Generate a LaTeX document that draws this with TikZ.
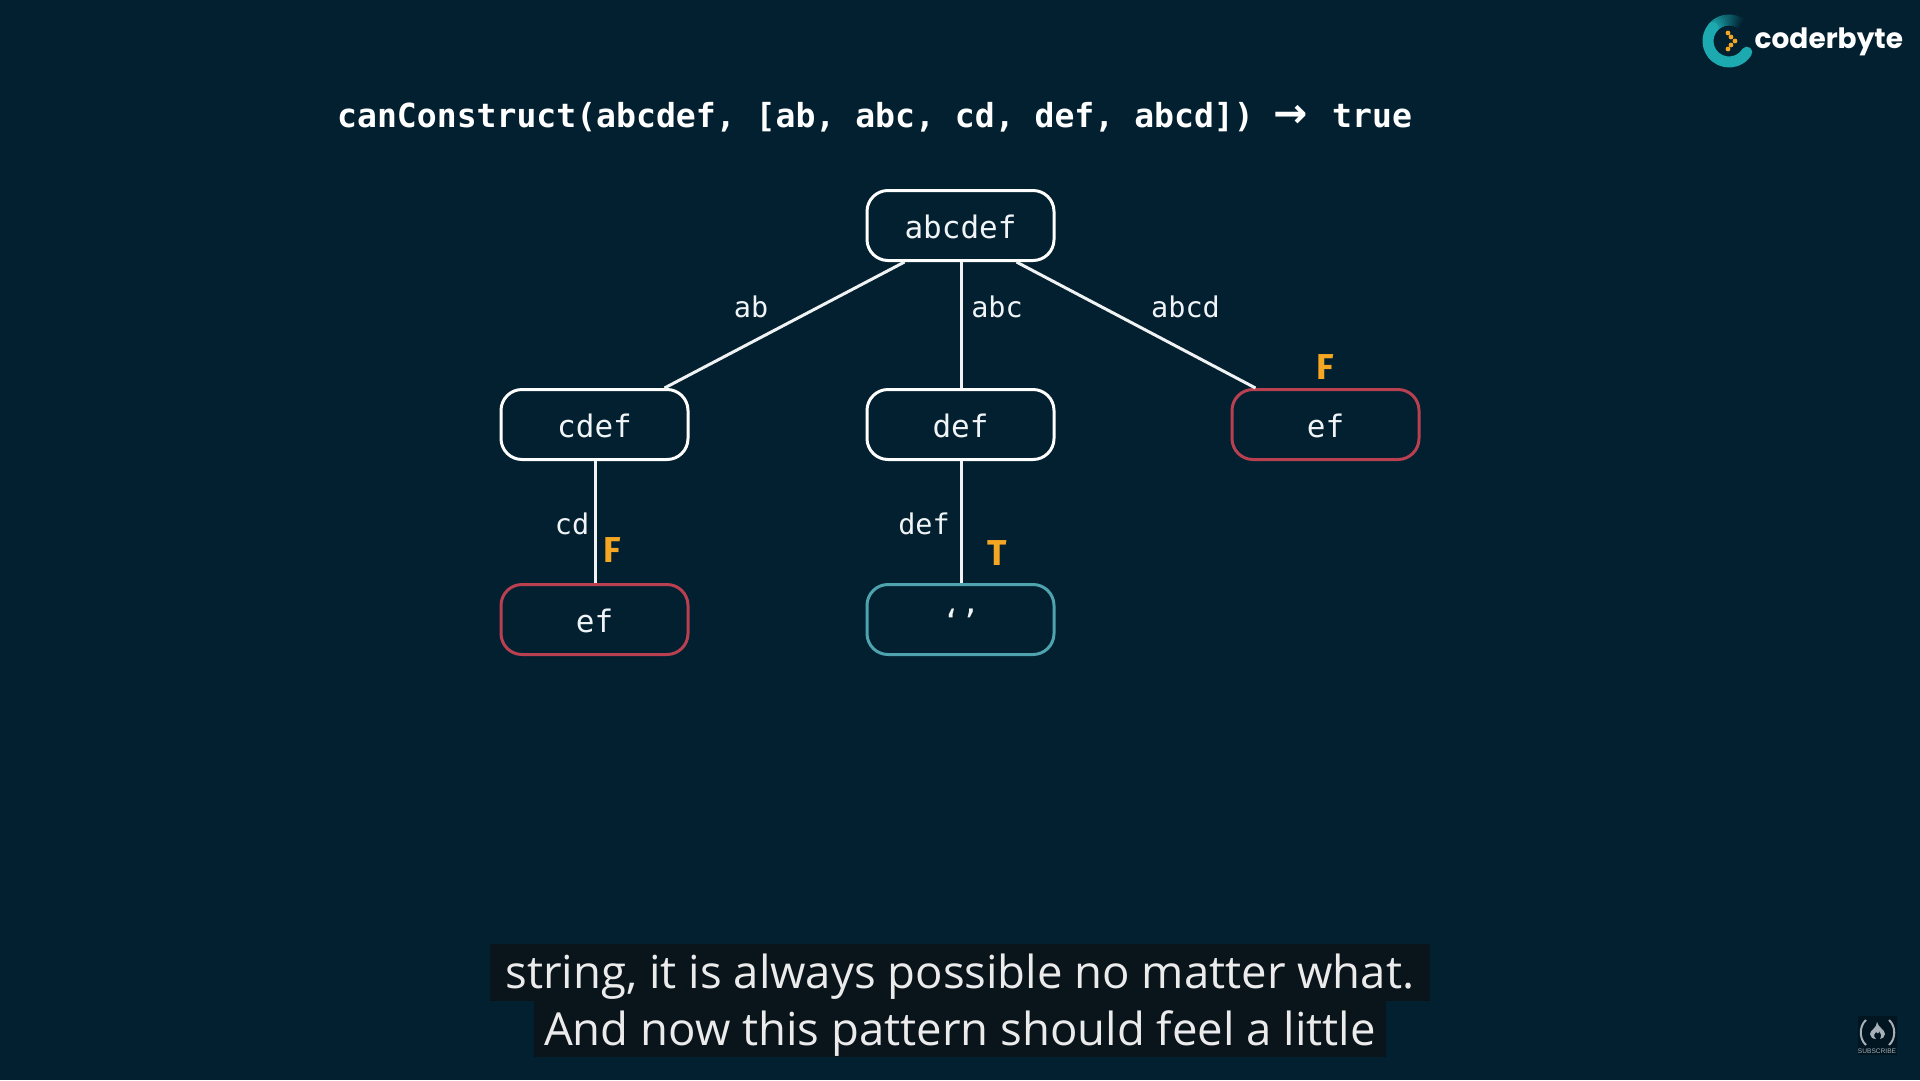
\documentclass[tikz,border=0pt]{standalone}
\usepackage{fontspec}
\setmainfont{Liberation Sans}
\newfontfamily\monof{DejaVu Sans Mono}
\newfontfamily\arrowf{DejaVu Sans}
\newfontfamily\firaf{Fira Sans}
\newfontfamily\logof{Poppins}
\newfontfamily\subf{Open Sans}
\definecolor{bgc}{RGB}{2,32,48}
\definecolor{redc}{RGB}{184,64,80}
\definecolor{tealc}{RGB}{78,163,174}
\definecolor{orangec}{RGB}{245,166,35}
\definecolor{logoc}{RGB}{28,170,176}
\definecolor{nodetext}{RGB}{240,244,246}
\definecolor{subbgc}{RGB}{9,20,27}
\tikzset{
  box/.style={draw=white,line width=3pt,rounded corners=21pt,minimum width=187pt,minimum height=70pt,inner sep=0pt,outer sep=1.5pt,
    text=nodetext,text height=25pt,text depth=0pt,font=\monof\fontsize{31}{36}\selectfont},
  redbox/.style={box,draw=redc},
  tealbox/.style={box,draw=tealc},
  conn/.style={draw=white!94!bgc,line width=3pt},
  edgelabel/.style={anchor=base,inner sep=0pt,text=nodetext,font=\monof\fontsize{28.5}{34}\selectfont},
  flag/.style={anchor=base,inner sep=0pt,text=orangec,font=\firaf\bfseries\fontsize{36}{40}\selectfont},
  subtitle/.style={anchor=base,inner sep=0pt,text=white!92!black,font=\subf\fontsize{45.5}{54}\selectfont},
  subbg/.style={fill=subbgc,draw=none}
}
\begin{document}
\begin{tikzpicture}[x=1pt,y=-1pt]
\useasboundingbox (0,0) rectangle (1920,1080);
\fill[bgc] (0,0) rectangle (1920,1080);
% title
\node[anchor=base west,inner sep=0pt,text=white,font=\monof\bfseries\fontsize{33.1}{40}\selectfont] (title) at (337,127) {canConstruct(abcdef, [ab, abc, cd, def, abcd])\hspace{20pt}{\arrowf\bfseries\fontsize{41}{40}\selectfont →}\hspace{24pt}true};
% nodes
\node[box] (root) at (960.5,225.5) {abcdef};
\node[box] (cdef) at (594.5,424.5) {cdef};
\node[box] (def) at (960.5,424.5) {def};
\node[redbox] (efr) at (1325.5,424.5) {ef};
\node[redbox] (efl) at (594.5,619.5) {ef};
\node[tealbox] (empty) at (960.5,619.5) {‘’};
% connectors
\draw[conn] ([xshift=-56pt]root.south) -- ([xshift=70pt]cdef.north);
\draw[conn] ([xshift=.5pt]root.south) -- ([xshift=.5pt]def.north);
\draw[conn] ([xshift=56pt]root.south) -- ([xshift=-70pt]efr.north);
\draw[conn] ([xshift=.8pt]cdef.south) -- ([xshift=.8pt]efl.north);
\draw[conn] ([xshift=.5pt]def.south) -- ([xshift=.5pt]empty.north);
% labels
\node[edgelabel] (lab) at (751,317) {ab};
\node[edgelabel] (labc) at (997,317) {abc};
\node[edgelabel] (labcd) at (1185.5,317) {abcd};
\node[edgelabel] (lcd) at (572,534) {cd};
\node[edgelabel] (ldef) at (924,534) {def};
\node[flag] (f1) at (1325,379) {F};
\node[flag] (f2) at (612,562) {F};
\node[flag] (t1) at (997.5,565) {T};
% subtitles
\fill[subbg] (490,944) rectangle (1430,1001);
\fill[subbg] (534,1000) rectangle (1386,1057);
\node[subtitle] (s1) at (960,988) {string, it is always possible no matter what.};
\node[subtitle] (s2) at (960,1045) {And now this pattern should feel a little};
% logo
\foreach \a in {50,55,...,135}{
  \pgfmathsetmacro{\m}{min(100,(\a-50)*100/85)}
  \draw[line width=11pt,color=logoc!\m!bgc] (1729,41) ++(\a:21pt) arc[start angle=\a,end angle=\a+6,radius=21pt];
}
\draw[line width=11pt,color=logoc,line cap=round] (1729,41) ++(140:21pt) arc[start angle=140,end angle=328,radius=21pt];
\foreach \px/\py in {1728/33,1731/37,1735/41,1731/45,1728/49}{
  \fill[orangec] (\px,\py) circle[radius=2.4pt];
}
\node[anchor=base west,inner sep=0pt,text=white,font=\logof\bfseries\fontsize{28}{34}\selectfont] (logotext) at (1754.5,48) {coderbyte};
% subscribe
\fill[black!30!bgc] (1858,1016) rectangle (1897,1055);
\draw[line width=2pt,color=white!65!bgc] (1866,1020) .. controls (1859,1026) and (1859,1039) .. (1866,1045);
\draw[line width=2pt,color=white!65!bgc] (1889,1020) .. controls (1896,1026) and (1896,1039) .. (1889,1045);
\fill[white!65!bgc] (1877,1022) .. controls (1878,1027) and (1885,1030) .. (1885,1034) .. controls (1885,1037) and (1882,1039) .. (1880,1039) .. controls (1882,1036) and (1881,1033) .. (1879,1031) .. controls (1879,1034) and (1877,1034) .. (1876,1032) .. controls (1873,1035) and (1874,1038) .. (1876,1039) .. controls (1872,1039) and (1870,1036) .. (1870,1034) .. controls (1870,1030) and (1877,1028) .. (1877,1022) -- cycle;
\node[anchor=base,inner sep=0pt,text=white!65!bgc,font=\fontsize{6.6}{8}\selectfont] (subs) at (1877,1053) {SUBSCRIBE};
\end{tikzpicture}
\end{document}
